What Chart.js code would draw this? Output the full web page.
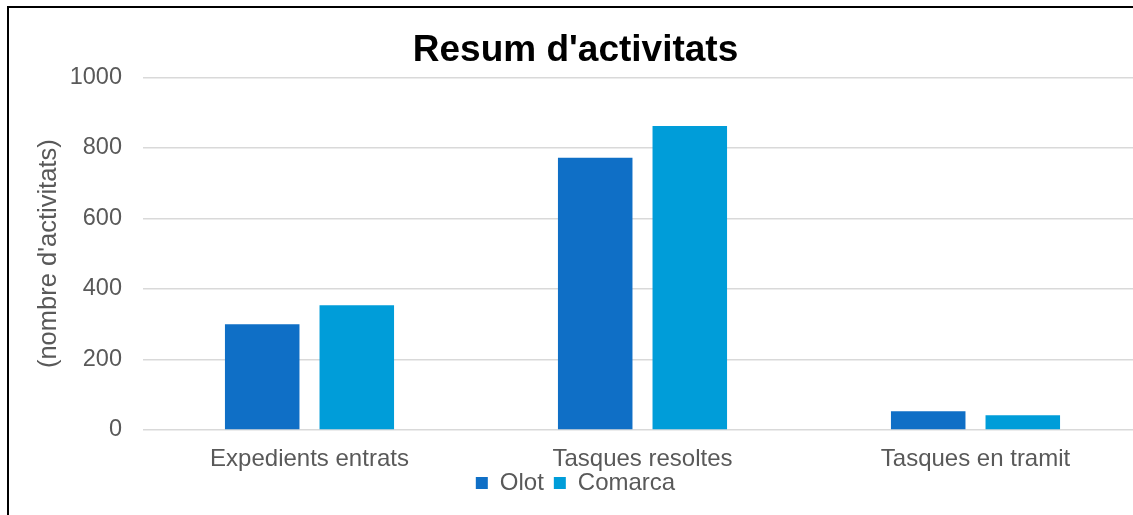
<!DOCTYPE html>
<html>
<head>
<meta charset="utf-8">
<title>Resum d'activitats</title>
<script src="https://cdn.jsdelivr.net/npm/chart.js@4.4.1/dist/chart.umd.min.js"></script>
<style>
html, body { margin: 0; padding: 0; background: #fff; overflow: hidden; }
#frame { position: absolute; left: 7px; top: 6px; width: 1140px; height: 520px; border: 2px solid #000; background: #fff; }
canvas { display: block; }
</style>
</head>
<body>
<div id="frame"><canvas id="resumChart" width="1140" height="520"></canvas></div>
<script>
var categories = ['Expedients entrats', 'Tasques resoltes', 'Tasques en tramit'];
var olotValues = [300, 772, 53];
var comarcaValues = [354, 862, 42];
var yTicks = [0, 200, 400, 600, 800, 1000];

Chart.defaults.font.family = "'Liberation Sans', Arial, sans-serif";
Chart.defaults.color = '#595959';

// pull the legend up a bit, closer to the category labels
var legendNudge = {
    id: 'legendNudge',
    afterLayout: function(chart) {
        if (chart.legend) {
            chart.legend.top -= 12;
            chart.legend.bottom -= 12;
        }
    }
};

var ctx = document.getElementById('resumChart');
var resumChart = new Chart(ctx, {
    type: 'bar',
    data: {
        labels: categories,
        datasets: [{
            label: 'Olot',
            data: olotValues,
            backgroundColor: '#0f6fc6',
            categoryPercentage: 0.568,
            barPercentage: 0.788
        }, {
            label: 'Comarca',
            data: comarcaValues,
            backgroundColor: '#009dd9',
            categoryPercentage: 0.568,
            barPercentage: 0.788
        }]
    },
    plugins: [legendNudge],
    options: {
        responsive: false,
        animation: false,
        layout: {
            padding: { left: 0, right: 7, top: 0, bottom: 11 }
        },
        plugins: {
            title: {
                display: true,
                text: "Resum d'activitats",
                color: '#000',
                font: { size: 37, weight: 'bold' },
                padding: { top: 21, bottom: 4 }
            },
            legend: {
                position: 'bottom',
                labels: {
                    boxWidth: 12,
                    boxHeight: 12,
                    padding: 10,
                    color: '#595959',
                    font: { size: 24 }
                }
            },
            tooltip: { enabled: false }
        },
        scales: {
            x: {
                grid: { display: false, drawTicks: false },
                border: { display: false },
                ticks: { padding: 15, font: { size: 24 }, color: '#595959' },
                afterFit: function(axis) { axis.height = 43; }
            },
            y: {
                min: 0,
                max: 1000,
                afterBuildTicks: function(axis) {
                    axis.ticks = yTicks.map(function(v) { return { value: v }; });
                },
                grid: { color: '#d9d9d9', lineWidth: 1.5, drawTicks: false },
                border: { display: false },
                ticks: {
                    padding: 21,
                    font: { size: 23.5 },
                    color: '#595959',
                    callback: function(value) { return String(value); }
                },
                title: {
                    display: true,
                    text: "(nombre d'activitats)",
                    color: '#595959',
                    font: { size: 25.5 },
                    padding: { top: 25, bottom: 0 }
                },
                afterFit: function(axis) { axis.width = 134; }
            }
        }
    }
});
</script>
</body>
</html>
